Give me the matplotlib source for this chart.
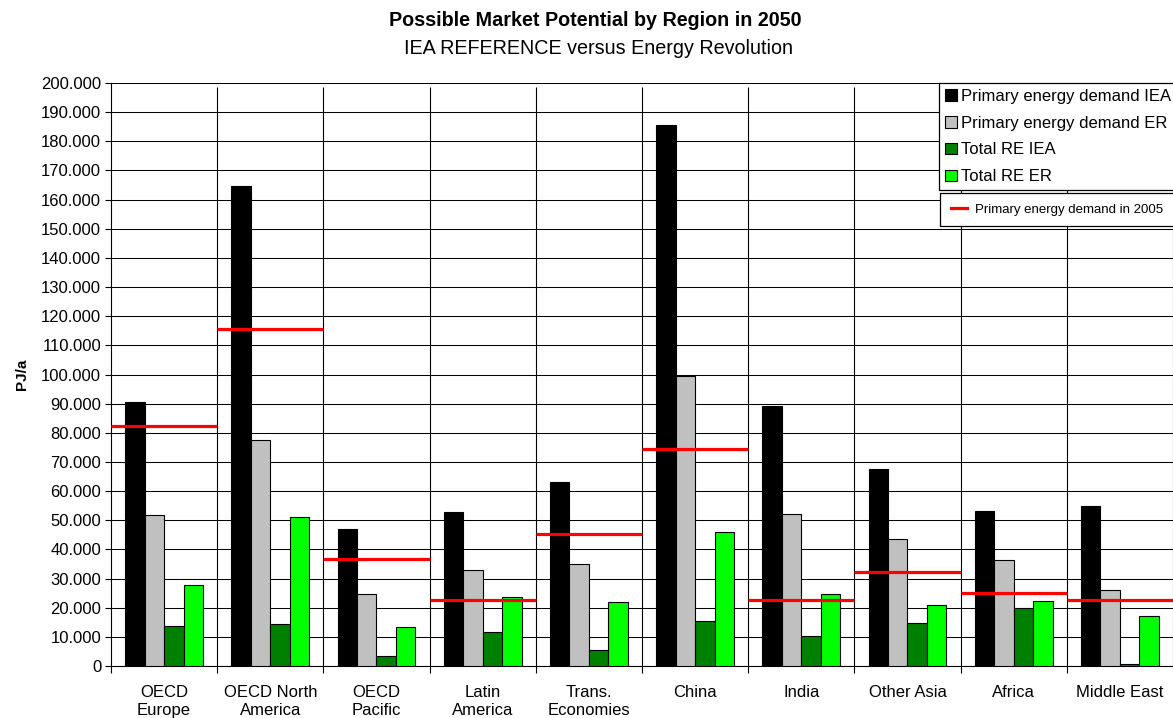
import numpy as np
import matplotlib
matplotlib.use('Agg')
import matplotlib.pyplot as plt
import matplotlib.patches as mpatches
from matplotlib.lines import Line2D
from matplotlib.ticker import FuncFormatter, FixedLocator

plt.rcParams['font.family'] = ['Liberation Sans', 'DejaVu Sans']

# --- Daten (PJ/a, 2050) ---
regions = ['OECD\nEurope', 'OECD North\nAmerica', 'OECD\nPacific', 'Latin\nAmerica',
           'Trans.\nEconomies', 'China', 'India', 'Other Asia', 'Africa', 'Middle East']
iea_demand = [90500, 164700, 46900, 52700, 63000, 185700, 89300, 67500, 53300, 54900]
er_demand = [51800, 77600, 24700, 32900, 35100, 99400, 52000, 43700, 36400, 26200]
re_iea = [13700, 14500, 3500, 11800, 5500, 15500, 10300, 14600, 19800, 600]
re_er = [27800, 51000, 13400, 23700, 22000, 46000, 24600, 21000, 22200, 17200]
demand_2005 = [82200, 115600, 36700, 22800, 45400, 74400, 22800, 32100, 24900, 22800]

series = [
    (iea_demand, '#000000', 'Primary energy demand IEA'),
    (er_demand, '#C0C0C0', 'Primary energy demand ER'),
    (re_iea, '#008000', 'Total RE IEA'),
    (re_er, '#00FF00', 'Total RE ER'),
]

fig = plt.figure(figsize=(11.73, 7.18), dpi=100)
ax = fig.add_axes([0.0946, 0.0724, 0.9054, 0.812])

x = np.arange(len(regions))
bw = 0.183
for k, (vals, col, lab) in enumerate(series):
    ax.bar(x + (k - 1.5) * bw, vals, width=bw, color=col, edgecolor='black',
           linewidth=0.8, zorder=3)

# Verbrauch 2005 als rote Linie über die ganze Kategorie
ax.hlines(demand_2005, x - 0.5, x + 0.5, colors='#FF0000', linewidth=2.3, zorder=4)

# Achsen
ax.set_xlim(-0.5, len(regions) - 0.5)
ax.set_ylim(0, 200000)
ax.set_yticks(np.arange(0, 200001, 10000))
ax.yaxis.set_major_formatter(FuncFormatter(lambda v, p: f'{int(v):,}'.replace(',', '.')))
ax.tick_params(axis='y', labelsize=12, length=4, width=0.8, pad=3)

bounds = np.arange(-0.5, len(regions), 1.0)
ax.xaxis.set_major_locator(FixedLocator(bounds))
ax.xaxis.set_minor_locator(FixedLocator(x))
ax.set_xticklabels([''] * len(bounds))
ax.set_xticklabels(regions, minor=True)
ax.tick_params(axis='x', which='major', length=5, width=0.8, direction='out')
ax.tick_params(axis='x', which='minor', length=0, labelsize=12, pad=14)
for t in ax.get_xticklabels(minor=True):
    t.set_linespacing(1.25)

ax.grid(axis='y', color='black', linewidth=0.75, zorder=1)
ax.vlines(bounds[1:], 0, 198600, colors='black', linewidth=0.8, zorder=1)

for s in ['top', 'right']:
    ax.spines[s].set_visible(False)
ax.spines['left'].set_linewidth(0.8)
ax.spines['bottom'].set_linewidth(0.8)

ax.set_ylabel('PJ/a', fontsize=11, fontweight='bold', labelpad=9)

# Titel
fig.text(595 / 1173, 1 - 21 / 718, 'Possible Market Potential by Region in 2050',
         ha='center', va='center', fontsize=14.2, fontweight='bold')
fig.text(598 / 1173, 1 - 48 / 718, 'IEA REFERENCE versus Energy Revolution',
         ha='center', va='center', fontsize=14.2)

# Legenden
handles = [mpatches.Patch(facecolor=c, edgecolor='black', linewidth=0.8, label=l)
           for _, c, l in series]
leg1 = fig.legend(handles=handles, loc='upper left', bbox_to_anchor=(939 / 1173, 1 - 83 / 718),
                  fontsize=12, frameon=True, fancybox=False, framealpha=1,
                  edgecolor='black', handlelength=0.7, handleheight=0.7,
                  handletextpad=0.25, labelspacing=0.71, borderpad=0.35,
                  borderaxespad=0)
leg1.get_frame().set_linewidth(0.9)

red_handle = [Line2D([], [], color='#FF0000', linewidth=2.3,
                     label='Primary energy demand in 2005')]
leg2 = fig.legend(handles=red_handle, loc='upper left', bbox_to_anchor=(940 / 1173, 1 - 193 / 718),
                  fontsize=9.5, frameon=True, fancybox=False, framealpha=1,
                  edgecolor='black', handlelength=1.25, handletextpad=0.6,
                  borderpad=0.8, borderaxespad=0)
leg2.get_frame().set_linewidth(0.9)

fig.savefig('out.png', dpi=100)
